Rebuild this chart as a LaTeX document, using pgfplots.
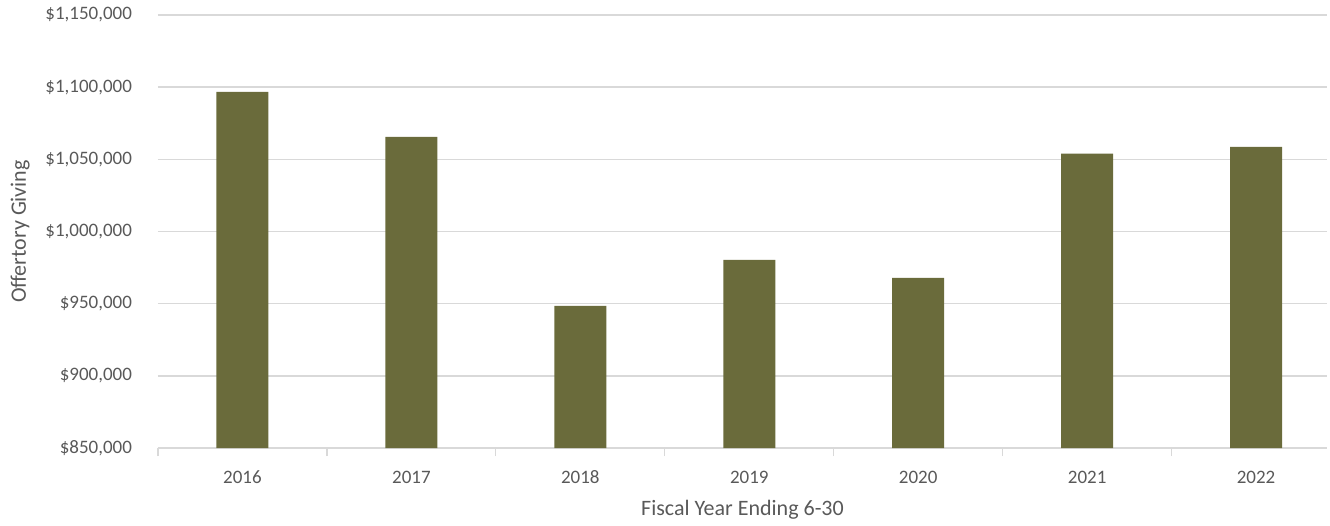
\documentclass[border=0pt]{standalone}
\usepackage{pgfplots}
\pgfplotsset{compat=1.18}
\usepackage{fontspec}
\setmainfont{Carlito}
\definecolor{barc}{HTML}{6A6B3B}
\definecolor{gridc}{HTML}{D9D9D9}
\definecolor{txt}{HTML}{595959}
\begin{document}
\begin{tikzpicture}
\begin{axis}[
  scale only axis,
  width=584.5pt, height=216.5pt,
  xmin=-0.5, xmax=6.42,
  ymin=850000, ymax=1150000,
  ybar, bar width=26pt,
  scaled y ticks=false,
  xtick={0,1,2,3,4,5,6},
  xticklabels={2016,2017,2018,2019,2020,2021,2022},
  minor xtick={-0.5,0.5,1.5,2.5,3.5,4.5,5.5},
  major tick length=0pt,
  minor tick length=4pt,
  tick align=outside,
  minor tick style={gridc, line width=0.6pt},
  ytick={850000,900000,950000,1000000,1050000,1100000,1150000},
  yticklabels={{\$850,000},{\$900,000},{\$950,000},{\$1,000,000},{\$1,050,000},{\$1,100,000},{\$1,150,000}},
  ymajorgrids,
  grid style={gridc, line width=0.7pt},
  axis line style={draw=none},
  axis x line*=bottom,
  x axis line style={gridc, line width=0.7pt, -},
  ticklabel style={font=\fontsize{9.5pt}{11pt}\selectfont, text=txt},
  yticklabel style={xshift=-9.5pt},
  xticklabel style={yshift=-7pt, text height=7pt, text depth=0pt},
  xlabel={Fiscal Year Ending 6-30},
  ylabel={Offertory Giving},
  label style={font=\fontsize{11pt}{13pt}\selectfont, text=txt},
  xlabel style={yshift=-1.5pt},
  ylabel style={yshift=1pt},
  clip=false,
]
\addplot[fill=barc, draw=none] coordinates {
  (0,1096800) (1,1065500) (2,948400) (3,980400) (4,967800) (5,1054000) (6,1058700)
};
\end{axis}
\pgfresetboundingbox
\path (current axis.south west) ++(-79pt,-38.5pt) coordinate (bl);
\path (current axis.north east) ++(1.5pt,7.5pt) coordinate (tr);
\useasboundingbox (bl) rectangle (tr);
\end{tikzpicture}
\end{document}
